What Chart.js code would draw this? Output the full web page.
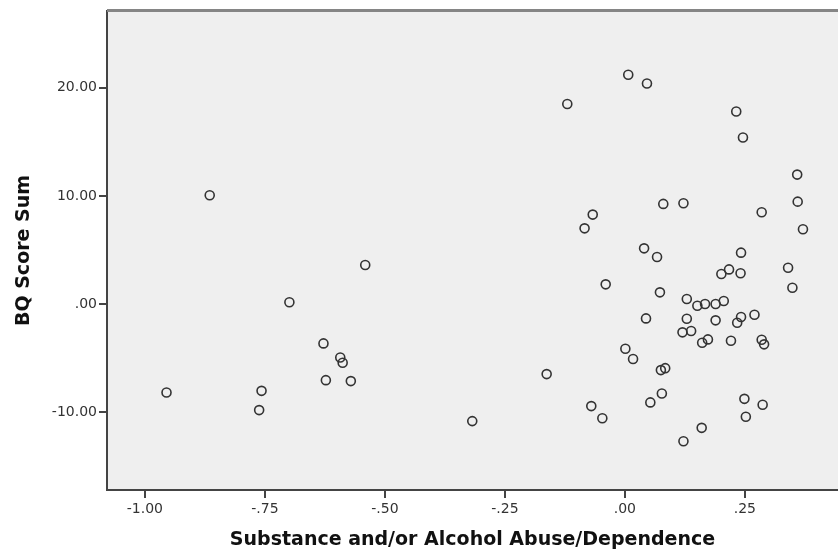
<!DOCTYPE html>
<html>
<head>
<meta charset="utf-8">
<script src="https://cdn.jsdelivr.net/npm/chart.js@4.4.1/dist/chart.umd.min.js"></script>
<style>
  html, body { margin: 0; padding: 0; background: #fff; }
  #wrap { width: 838px; height: 553px; }
</style>
</head>
<body>
<div id="wrap"><canvas id="scatterChart"></canvas></div>
<script>
// values
const substanceAbuse = [
  -0.865, -0.541, 0.007, 0.046, -0.120, 0.232, 0.246, 0.359, 0.360, 0.080,
  0.122, 0.285, -0.067, -0.084, 0.371, 0.040, 0.067, 0.242, 0.340, 0.201,
  0.217, 0.241, -0.040, 0.349, 0.073, 0.129, 0.151, 0.167, 0.189, 0.206,
  0.044, 0.129, 0.189, 0.242, 0.234, 0.270, 0.120, 0.138, 0.161, 0.173,
  0.221, 0.285, 0.290, 0.001, 0.017, 0.075, 0.084, -0.163, 0.077, 0.053,
  -0.070, -0.047, 0.249, 0.252, 0.287, 0.160, 0.122, -0.318, -0.699, -0.628,
  -0.593, -0.588, -0.623, -0.571, -0.955, -0.757, -0.762
];
const bqScoreSum = [
  10.06, 3.61, 21.2, 20.4, 18.5, 17.8, 15.4, 11.97, 9.47, 9.26,
  9.32, 8.49, 8.27, 7.0, 6.91, 5.15, 4.35, 4.75, 3.36, 2.78,
  3.2, 2.84, 1.82, 1.51, 1.08, 0.46, -0.16, 0.0, 0.0, 0.28,
  -1.33, -1.36, -1.51, -1.2, -1.73, -0.99, -2.62, -2.5, -3.58, -3.27,
  -3.4, -3.3, -3.73, -4.14, -5.09, -6.11, -5.93, -6.48, -8.27, -9.1,
  -9.44, -10.56, -8.77, -10.43, -9.32, -11.45, -12.69, -10.83, 0.16, -3.64,
  -4.94, -5.43, -7.04, -7.13, -8.18, -8.03, -9.81
];
const xTickValues = [-1, -0.75, -0.5, -0.25, 0, 0.25];
const yTickValues = [-10, 0, 10, 20];

const points = substanceAbuse.map((x, i) => ({ x: x, y: bqScoreSum[i] }));

// SPSS style labels: ".25", "-1.00", "20.00"
function spssLabel(v) {
  let s = Math.abs(v).toFixed(2);
  if (s.startsWith('0')) s = s.slice(1);
  return (v < 0 && Math.abs(v) > 1e-9 ? '-' : '') + s;
}

const plotFrame = {
  id: 'plotFrame',
  beforeDraw(chart) {
    const { ctx, chartArea: a } = chart;
    ctx.save();
    ctx.fillStyle = '#efefef';
    ctx.fillRect(a.left, a.top, a.right - a.left, a.bottom - a.top);
    ctx.restore();
  },
  afterDraw(chart) {
    const { ctx, chartArea: a } = chart;
    ctx.save();
    ctx.strokeStyle = '#858585';
    ctx.lineWidth = 3;
    ctx.beginPath();
    ctx.moveTo(a.left, a.top - 0.5);
    ctx.lineTo(a.right, a.top - 0.5);
    ctx.stroke();
    ctx.restore();
  }
};

const tickFont = { family: 'DejaVu Sans', size: 14 };
const titleFont = { family: 'DejaVu Sans', size: 19, weight: 'bold' };

new Chart(document.getElementById('scatterChart'), {
  type: 'scatter',
  data: {
    datasets: [{
      data: points,
      pointRadius: 4.5,
      pointHoverRadius: 4.5,
      pointBorderWidth: 1.6,
      borderColor: '#333',
      backgroundColor: 'rgba(0,0,0,0)'
    }]
  },
  options: {
    responsive: true,
    maintainAspectRatio: false,
    animation: false,
    layout: { autoPadding: false, padding: { top: 11, right: 0, left: 0, bottom: 0 } },
    plugins: { legend: { display: false }, tooltip: { enabled: false } },
    scales: {
      x: {
        type: 'linear',
        min: -1.079,
        max: 0.444,
        afterBuildTicks: s => { s.ticks = xTickValues.map(v => ({ value: v })); },
        afterFit: s => { s.height = 63; },
        ticks: { callback: v => spssLabel(v), color: '#333', font: tickFont, padding: 3, maxRotation: 0 },
        grid: { drawOnChartArea: false, drawTicks: true, tickLength: 8, color: '#444', lineWidth: 2 },
        border: { display: true, color: '#444', width: 2 },
        title: { display: true, text: 'Substance and/or Alcohol Abuse/Dependence', color: '#111', font: titleFont, padding: { top: 4, bottom: 2 } }
      },
      y: {
        type: 'linear',
        min: -17.2,
        max: 27.1,
        afterBuildTicks: s => { s.ticks = yTickValues.map(v => ({ value: v })); },
        afterFit: s => { s.width = 107; },
        ticks: { callback: v => spssLabel(v), color: '#333', font: tickFont, padding: 2 },
        grid: { drawOnChartArea: false, drawTicks: true, tickLength: 8, color: '#444', lineWidth: 2 },
        border: { display: true, color: '#444', width: 2 },
        title: { display: true, text: 'BQ Score Sum', color: '#111', font: titleFont, padding: { top: 13, bottom: 4 } }
      }
    }
  },
  plugins: [plotFrame]
});
</script>
</body>
</html>
